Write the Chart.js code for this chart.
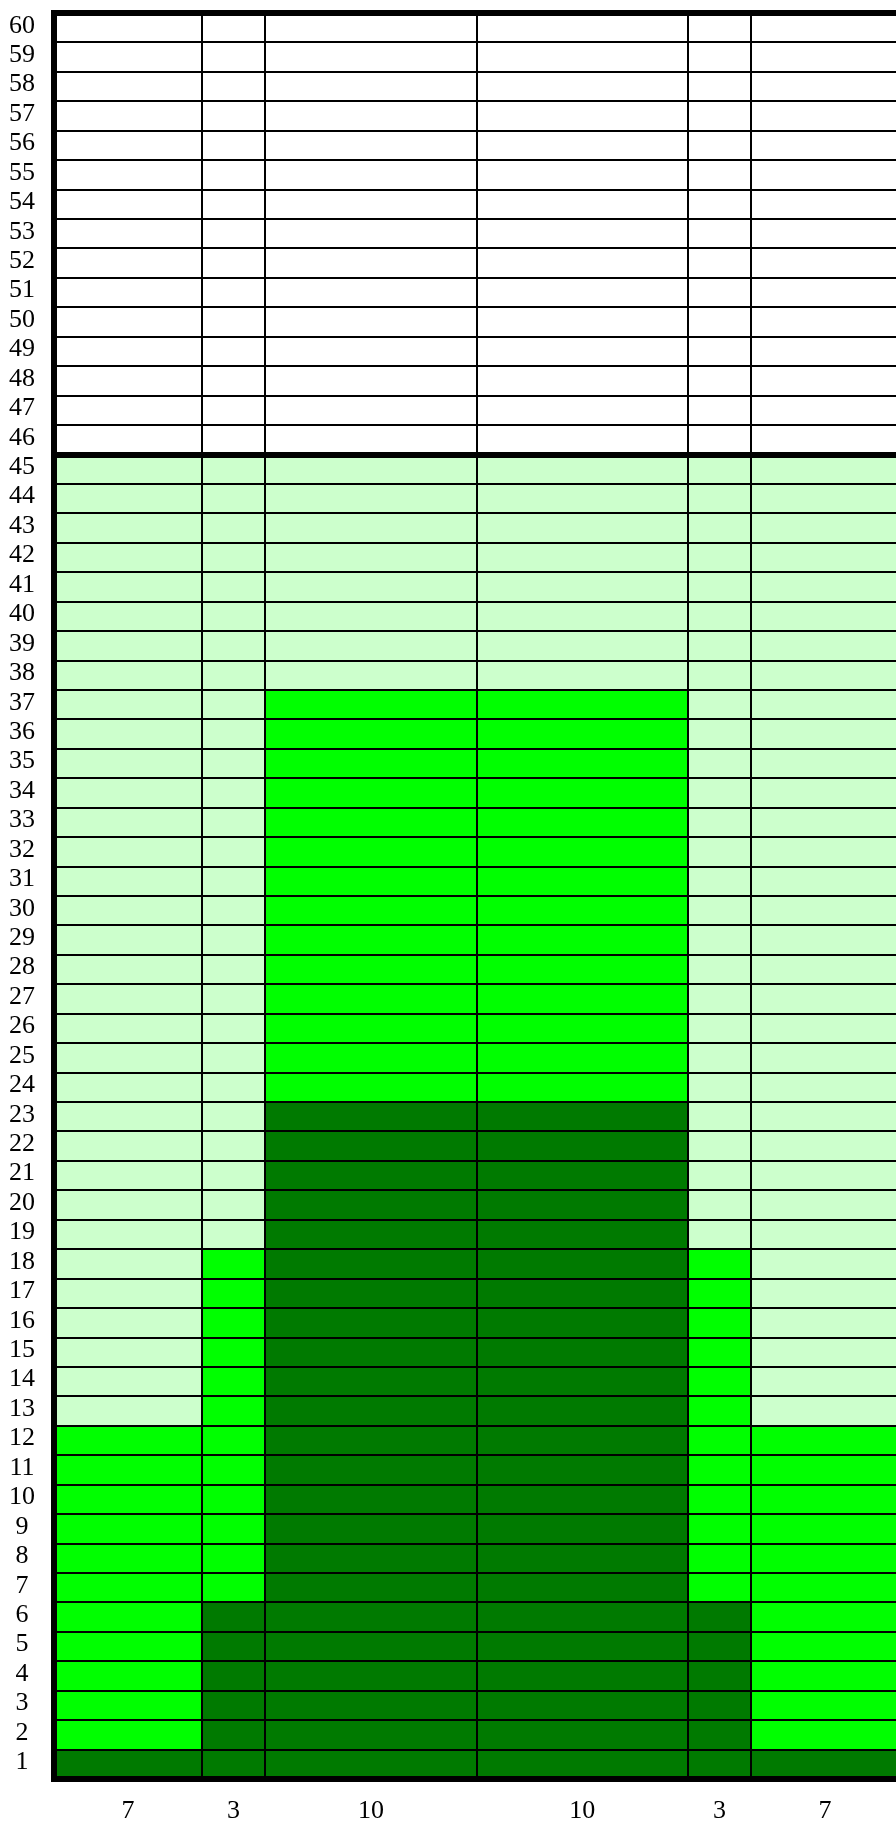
<!DOCTYPE html>
<html>
<head>
<meta charset="utf-8">
<script src="https://cdn.jsdelivr.net/npm/chart.js@4/dist/chart.umd.min.js"></script>
<style>
  html, body { margin: 0; padding: 0; background: #ffffff; overflow: hidden; }
  #wrap { width: 896px; height: 1821px; overflow: hidden; position: relative; }
  canvas { display: block; }
</style>
</head>
<body>
<div id="wrap"><canvas id="c" width="900" height="1821"></canvas></div>
<script>
// ---- data ----
const rowCount = 60;
const rowLabels = Array.from({length: rowCount}, (_, i) => String(i + 1));
const columnWidths = [7, 3, 10, 10, 3, 7];
const columnLabels = ['7', '3', '10', '10', '3', '7'];
// highest row (inclusive) of each colour band, per column
const darkTop   = [1, 6, 23, 23, 6, 1];
const brightTop = [12, 18, 37, 37, 18, 12];
const lightTop  = [45, 45, 45, 45, 45, 45];
const thickRowBoundaries = [45]; // thick line above this row

const DARK = '#007a00', BRIGHT = '#00ff00', LIGHT = '#ccffcc', WHITE = '#ffffff';

function cellColor(col, row) {
  if (row <= darkTop[col]) return DARK;
  if (row <= brightTop[col]) return BRIGHT;
  if (row <= lightTop[col]) return LIGHT;
  return WHITE;
}

const boundaries = [0];
columnWidths.forEach(w => boundaries.push(boundaries[boundaries.length - 1] + w));
const centers = columnWidths.map((w, i) => boundaries[i] + w / 2);
const total = boundaries[boundaries.length - 1];

const datasets = columnWidths.map((w, col) => ({
  label: 'col' + col,
  data: rowLabels.map(() => w),
  backgroundColor: rowLabels.map((_, r) => cellColor(col, r + 1)),
  borderWidth: 0,
  barPercentage: 1,
  categoryPercentage: 1,
  xAxisID: 'x',
  yAxisID: 'y'
}));

const font = { family: '"Liberation Serif", "Times New Roman", serif', size: 26 };

new Chart(document.getElementById('c'), {
  type: 'bar',
  data: { labels: rowLabels, datasets },
  options: {
    responsive: false,
    animation: false,
    devicePixelRatio: 1,
    indexAxis: 'y',
    layout: { padding: { top: 13, right: 1, left: 0, bottom: 0 } },
    plugins: { legend: { display: false }, tooltip: { enabled: false } },
    scales: {
      y: {
        type: 'category',
        reverse: true,
        stacked: true,
        offset: true,
        afterFit(s) { s.width = 54; s.paddingTop = 0; s.paddingBottom = 0; },
        grid: {
          z: 1,
          offset: true,
          drawTicks: false,
          color: '#000',
          lineWidth(ctx) {
            if (ctx.index === undefined || ctx.index === 0) return 6;
            if (thickRowBoundaries.includes(ctx.index)) return 6;
            return 2;
          }
        },
        border: { display: true, color: '#000', width: 6, z: 3 },
        ticks: {
          color: '#000',
          font,
          padding: 19,
          crossAlign: 'center',
          labelOffset: -2,
          autoSkip: false
        }
      },
      x: {
        type: 'linear',
        stacked: true,
        min: 0,
        max: total,
        position: 'bottom',
        weight: 0,
        afterBuildTicks(s) { s.ticks = boundaries.map(v => ({ value: v })); },
        afterFit(s) { s.height = 0; s.paddingLeft = 0; s.paddingRight = 0; },
        grid: {
          z: 2,
          drawTicks: false,
          color: '#000',
          lineWidth(ctx) {
            if (ctx.index === 0) return 6;
            if (ctx.index === boundaries.length - 1) return 0;
            return 2;
          }
        },
        border: { display: true, color: '#000', width: 6, z: 3 },
        ticks: { display: false }
      },
      xLabels: {
        type: 'linear',
        min: 0,
        max: total,
        position: 'bottom',
        weight: 1,
        afterBuildTicks(s) { s.ticks = centers.map(v => ({ value: v })); },
        afterFit(s) { s.height = 42; s.paddingLeft = 0; s.paddingRight = 0; },
        grid: { display: false, drawTicks: false },
        border: { display: false },
        ticks: {
          color: '#000',
          font,
          padding: 17,
          autoSkip: false,
          maxRotation: 0,
          callback(value, index) { return columnLabels[index]; }
        }
      }
    }
  }
});
</script>
</body>
</html>
